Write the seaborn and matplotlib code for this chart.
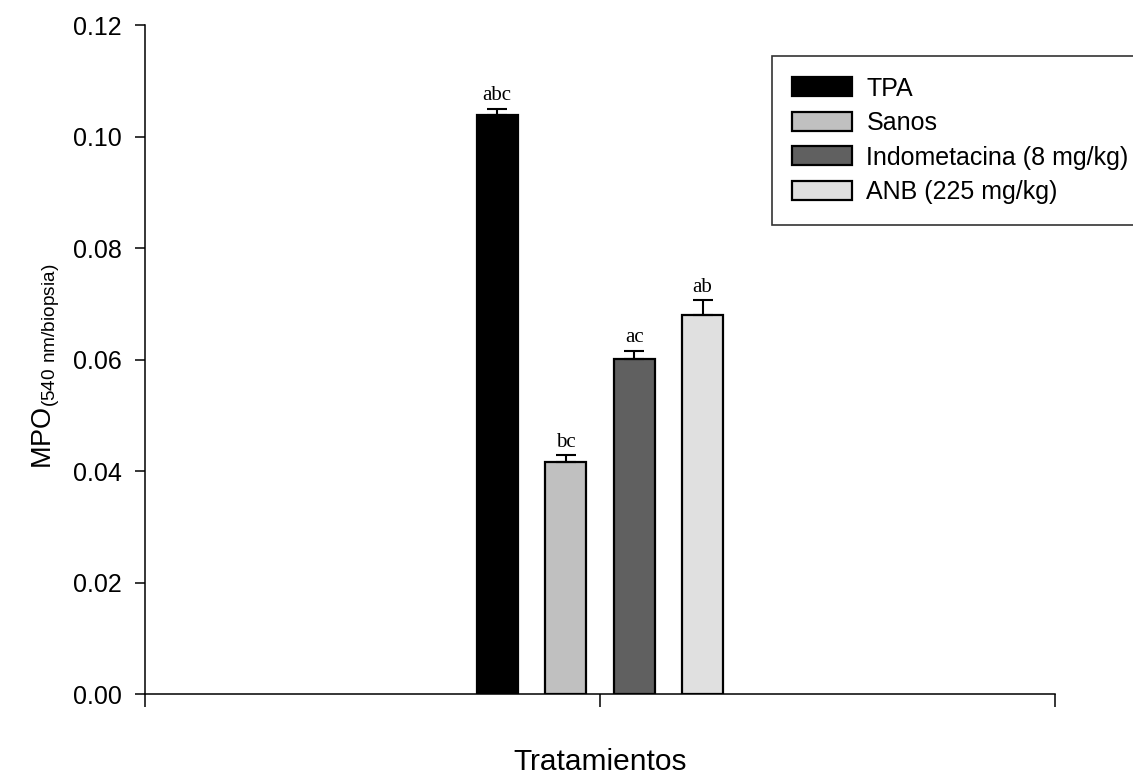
import numpy as np
import pandas as pd
import matplotlib
matplotlib.use("Agg")
import matplotlib.pyplot as plt
import seaborn as sns

# -----------------------------
# Data
# -----------------------------
tratamientos = ["TPA", "Sanos", "Indometacina (8 mg/kg)", "ANB (225 mg/kg)"]
mpo = [0.1039, 0.0417, 0.0601, 0.0679]
err = [0.0011, 0.0011, 0.0014, 0.0027]
letras = ["abc", "bc", "ac", "ab"]
colores = ["#000000", "#c0c0c0", "#606060", "#e0e0e0"]

df = pd.DataFrame({
    "grupo": [""] * len(tratamientos),
    "tratamiento": tratamientos,
    "mpo": mpo,
})

# -----------------------------
# Plot
# -----------------------------
sns.set_style("ticks")
plt.rcParams["font.family"] = ["Liberation Sans", "DejaVu Sans"]
plt.rcParams["text.color"] = "black"
plt.rcParams["axes.labelcolor"] = "black"
plt.rcParams["xtick.color"] = "black"
plt.rcParams["ytick.color"] = "black"

fig = plt.figure(figsize=(11.33, 7.75), dpi=100)
ax = fig.add_axes([0.128, 0.1045, 0.803, 0.8632])

sns.barplot(data=df, x="grupo", y="mpo", hue="tratamiento",
            hue_order=tratamientos, palette=colores, width=0.301, gap=0.4,
            edgecolor="black", linewidth=1.6, errorbar=None, ax=ax)

# one-sided error bars + significance letters
for bar, v, e, txt in zip(ax.patches, mpo, err, letras):
    xc = bar.get_x() + bar.get_width() / 2
    ax.errorbar(xc, v, yerr=[[0], [e]], fmt="none", ecolor="black",
                elinewidth=1.5, capsize=7, capthick=1.5)
    ax.text(xc, v + e + 0.0007, txt, ha="center", va="bottom",
            family="Liberation Serif", fontsize=15, color="black")

ax.set_xlim(-0.5, 0.5)
ax.set_ylim(0, 0.12)
ax.set_xticks([-0.5, 0, 0.5])
ax.set_xticklabels(["", "", ""])
yt = np.arange(0, 0.121, 0.02)
ax.set_yticks(yt)
ax.set_yticklabels([f"{t:.2f}" for t in yt], fontsize=18)
ax.tick_params(axis="y", length=7, width=1.1, direction="out", pad=10)
ax.tick_params(axis="x", length=9, width=1.1, direction="out")
for s in ["top", "right"]:
    ax.spines[s].set_visible(False)
for s in ["left", "bottom"]:
    ax.spines[s].set_linewidth(1.1)
    ax.spines[s].set_color("black")

ax.set_xlabel("Tratamientos", fontsize=21.5)
ax.xaxis.set_label_coords(0.5, -0.080)
ax.set_ylabel(r"MPO$_{\mathregular{(540\ nm/biopsia)}}$", fontsize=19.5)
ax.yaxis.set_label_coords(-0.0914, 0.49)

leg = ax.legend(loc="upper left", bbox_to_anchor=(0.689, 0.9537), fontsize=18,
                frameon=True, fancybox=False, edgecolor="black",
                handlelength=2.4, handleheight=0.8, handletextpad=0.56,
                labelspacing=0.42, borderpad=0.82, borderaxespad=0)
leg.get_frame().set_linewidth(1.2)
leg.set_title(None)
for t in leg.get_texts():
    t.set_color("black")

fig.savefig("out.png", dpi=100)
plt.close(fig)
